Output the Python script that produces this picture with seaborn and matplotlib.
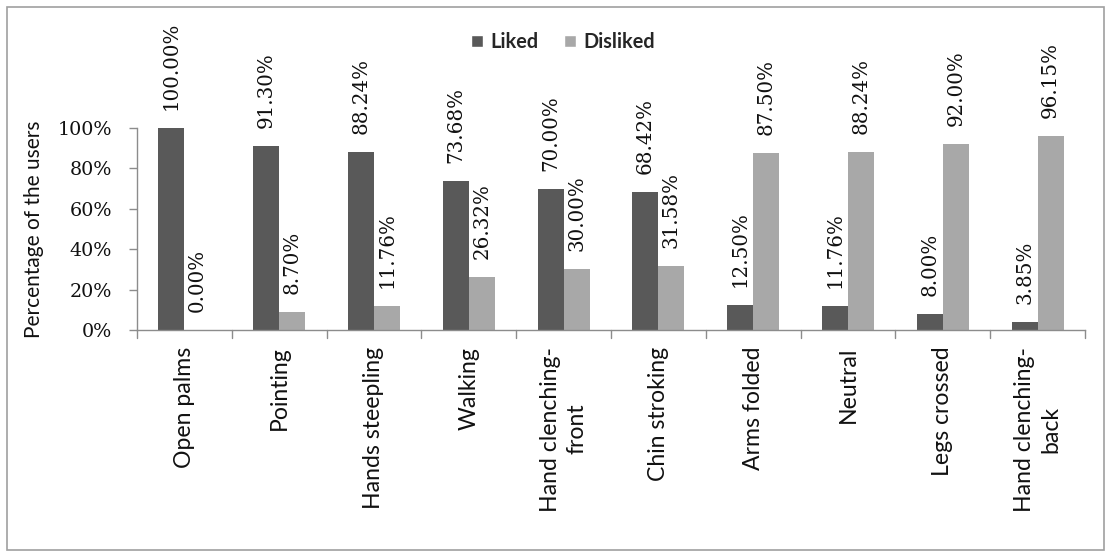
import matplotlib
matplotlib.use("Agg")
import matplotlib.pyplot as plt
from matplotlib.patches import Rectangle, Patch
import seaborn as sns
import pandas as pd

categories = ["Open palms", "Pointing", "Hands steepling", "Walking",
              "Hand clenching-\nfront", "Chin stroking", "Arms folded",
              "Neutral", "Legs crossed", "Hand clenching-\nback"]
liked = [100.00, 91.30, 88.24, 73.68, 70.00, 68.42, 12.50, 11.76, 8.00, 3.85]
disliked = [0.00, 8.70, 11.76, 26.32, 30.00, 31.58, 87.50, 88.24, 92.00, 96.15]
series = ["Liked", "Disliked"]
colors = ["#595959", "#A8A8A8"]

df = pd.DataFrame({
    "Gesture": categories * 2,
    "Series": [series[0]] * len(categories) + [series[1]] * len(categories),
    "Value": liked + disliked,
})

sns.set_theme(style="white")
plt.rcParams["font.family"] = ["Lato", "DejaVu Sans"]

W, H = 1110, 553
fig = plt.figure(figsize=(W / 100, H / 100), dpi=100)
ax = fig.add_axes([137 / W, 1 - 330 / H, (1085 - 137) / W, (330 - 128) / H])

sns.barplot(data=df, x="Gesture", y="Value", hue="Series", order=categories,
            hue_order=series, palette=colors, width=0.55, saturation=1,
            errorbar=None, ax=ax, legend=False, linewidth=0)

ax.set_ylim(0, 100)
ax.set_xlim(-0.5, len(categories) - 0.5)
ax.set_yticks([0, 20, 40, 60, 80, 100])
ax.set_yticklabels([f"{v}%" for v in [0, 20, 40, 60, 80, 100]],
                   family="DejaVu Serif", fontsize=13.8, color="#111111")
ax.set_xticks(range(len(categories)))
ax.set_xticklabels(categories, rotation=90, fontsize=16.6, color="#111111",
                   va="top", ha="center", linespacing=1.3)
ax.tick_params(axis="x", length=0, pad=12)
ax.tick_params(axis="y", length=6, width=1, color="#8c8c8c", left=True, pad=12)
# category boundary ticks on the x axis
for b in range(len(categories) + 1):
    ax.plot([b - 0.5, b - 0.5], [0, -4], color="#8c8c8c", lw=1, clip_on=False)

for s in ["top", "right"]:
    ax.spines[s].set_visible(False)
for s in ["left", "bottom"]:
    ax.spines[s].set_color("#8c8c8c")
    ax.spines[s].set_linewidth(1)

ax.set_xlabel("")
ax.set_ylabel("Percentage of the users", fontsize=15, color="#111111", labelpad=10)

# value labels above each bar
for container, vals in zip(ax.containers, [liked, disliked]):
    ax.bar_label(container, labels=[f"{v:.2f}%" for v in vals], rotation=90,
                 padding=13, fontsize=14.3, family="DejaVu Serif",
                 color="#111111", clip_on=False)

# legend
handles = [Patch(facecolor=c, label=l) for c, l in zip(colors, series)]
fig.legend(handles=handles, loc="center", bbox_to_anchor=(563 / W, 1 - 42 / H),
           ncol=2, frameon=False, handlelength=0.6, handleheight=0.6,
           handletextpad=0.35, columnspacing=1.3,
           prop={"weight": "bold", "size": 14.3})

# chart area border
fig.patches.append(Rectangle((7 / W, 3 / H), 1097 / W, 543 / H,
                             transform=fig.transFigure, fill=False,
                             edgecolor="#a0a0a0", lw=1.2))

fig.savefig("out.png", dpi=100, facecolor="white")
